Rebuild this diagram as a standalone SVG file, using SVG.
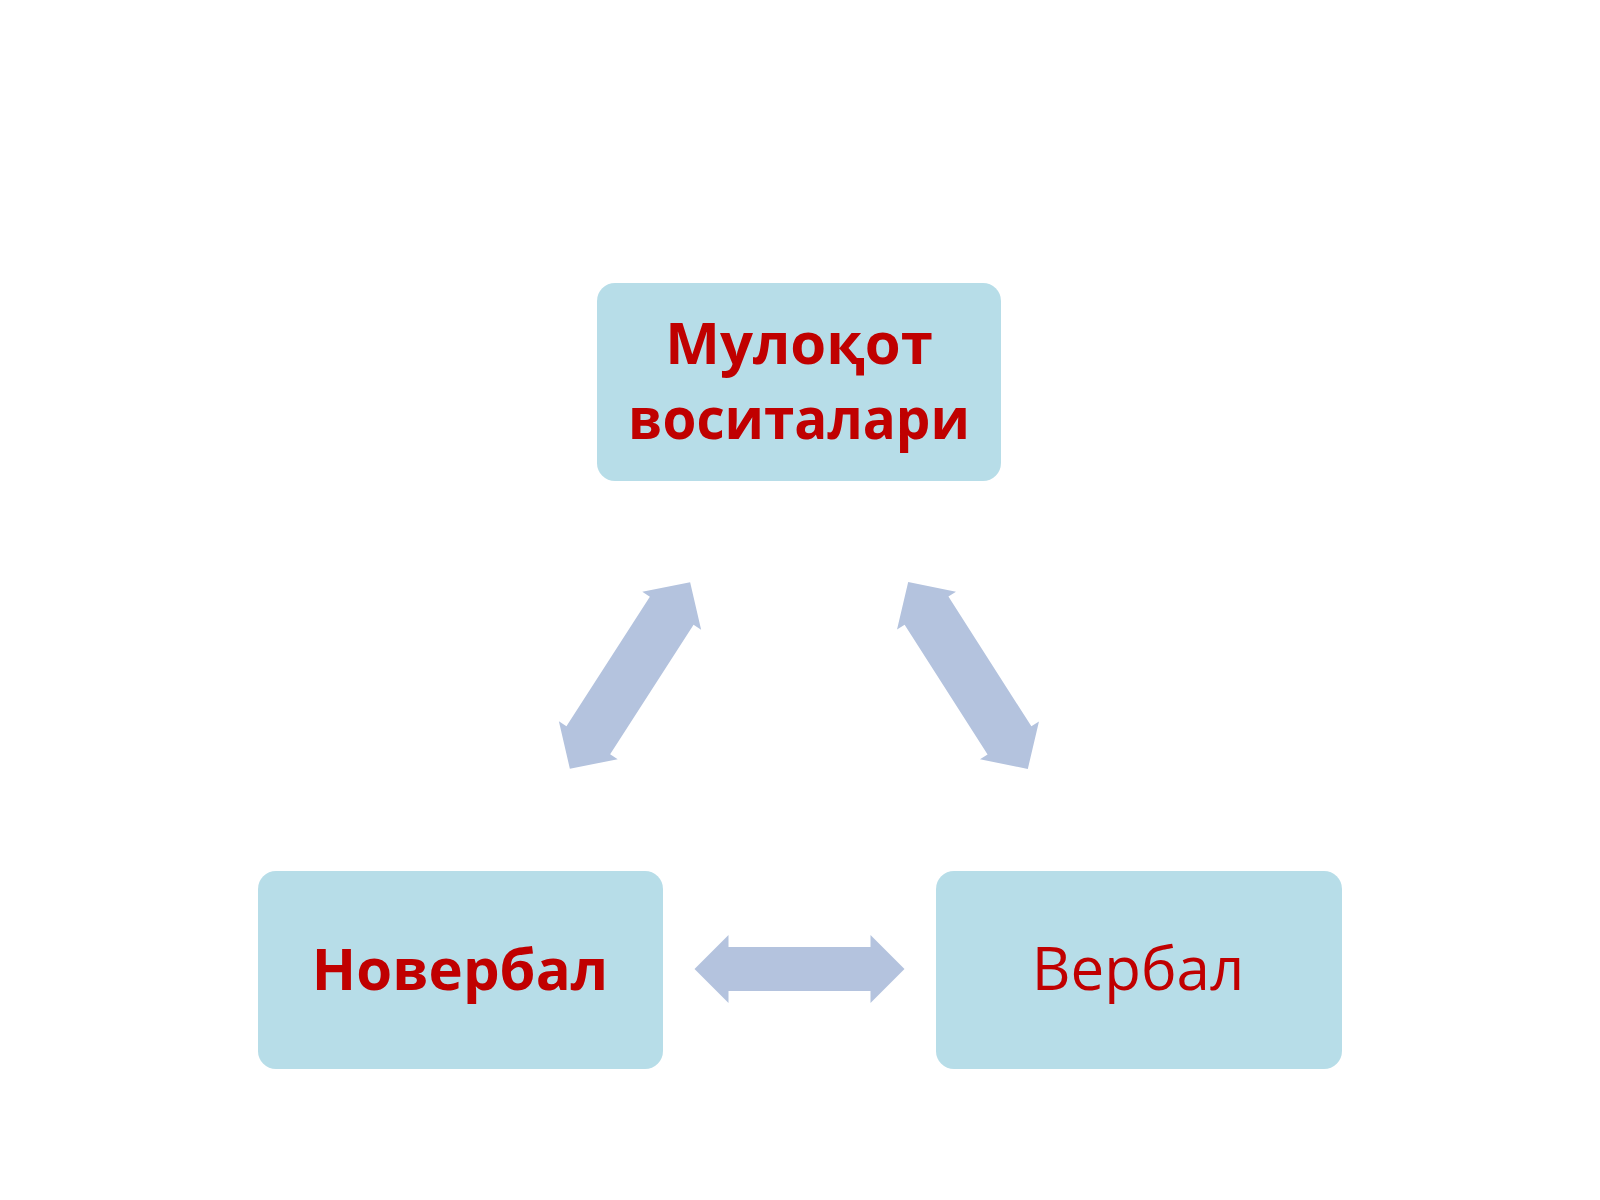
<svg xmlns="http://www.w3.org/2000/svg" width="1600" height="1200" viewBox="0 0 1600 1200">
<defs>
<style>
.box{fill:#B7DDE8;}
.lbl{font-family:"Open Sans","Liberation Sans",sans-serif;fill:#C00000;text-anchor:middle;}
.b{font-weight:bold;}
.arr{fill:#B4C3DE;}
</style>
<path id="dbl" d="M-105,0 L-71,-34 L-71,-22 L71,-22 L71,-34 L105,0 L71,34 L71,22 L-71,22 L-71,34 Z"/>
<path id="dbl2" d="M-111,0 L-77,-35 L-77,-26 L77,-26 L77,-35 L111,0 L77,35 L77,26 L-77,26 L-77,35 Z"/>
</defs>
<rect width="1600" height="1200" fill="#FFFFFF"/>
<g id="connectors">
<use href="#dbl2" class="arr" transform="translate(630,675.5) rotate(-57.2)"/>
<use href="#dbl2" class="arr" transform="translate(968,675.5) rotate(57.4)"/>
<use href="#dbl" class="arr" transform="translate(799.5,969)"/>
</g>
<g id="node-top">
<rect class="box" x="597" y="283" width="404" height="198" rx="18"/>
<text class="lbl b" x="799" y="364" font-size="58">Мулоқот</text>
<text class="lbl b" x="799" y="439" font-size="58" textLength="342" lengthAdjust="spacingAndGlyphs">воситалари</text>
</g>
<g id="node-left">
<rect class="box" x="258" y="871" width="405" height="198" rx="18"/>
<text class="lbl b" x="460" y="990" font-size="58">Новербал</text>
</g>
<g id="node-right">
<rect class="box" x="936" y="871" width="406" height="198" rx="18"/>
<text class="lbl" x="1138" y="990" font-size="60">Вербал</text>
</g>
</svg>
